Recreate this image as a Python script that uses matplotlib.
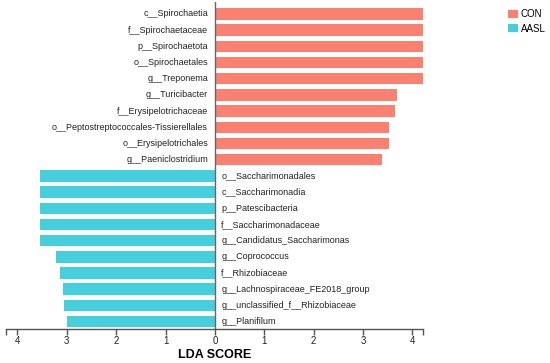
import matplotlib
matplotlib.use("Agg")
import matplotlib.pyplot as plt
from matplotlib.patches import Patch
from matplotlib.ticker import FixedLocator, FuncFormatter

plt.rcParams['font.family'] = ['Liberation Sans', 'DejaVu Sans']

con_labels = ["c__Spirochaetia", "f__Spirochaetaceae", "p__Spirochaetota",
              "o__Spirochaetales", "g__Treponema", "g__Turicibacter",
              "f__Erysipelotrichaceae", "o__Peptostreptococcales-Tissierellales",
              "o__Erysipelotrichales", "g__Paeniclostridium"]
con_values = [4.22, 4.22, 4.22, 4.22, 4.22, 3.68, 3.65, 3.53, 3.52, 3.39]

aasl_labels = ["o__Saccharimonadales", "c__Saccharimonadia", "p__Patescibacteria",
               "f__Saccharimonadaceae", "g__Candidatus_Saccharimonas",
               "g__Coprococcus", "f__Rhizobiaceae", "g__Lachnospiraceae_FE2018_group",
               "g__unclassified_f__Rhizobiaceae", "g__Planifilum"]
aasl_values = [3.54, 3.54, 3.54, 3.54, 3.54, 3.22, 3.14, 3.08, 3.06, 2.99]

groups = ["CON", "AASL"]
colors = ["#FA8072", "#45CEDC"]
xticks = [-4, -3, -2, -1, 0, 1, 2, 3, 4]

fig = plt.figure(figsize=(5.5, 3.63), dpi=100)
ax = fig.add_axes([6/550, 1 - 329.3/363, (423.3 - 6)/550, (329.3 - 2)/363])

n_con = len(con_values)
con_y = list(range(n_con))
aasl_y = list(range(n_con, n_con + len(aasl_values)))

ax.barh(con_y, con_values, height=0.71, color=colors[0], edgecolor='none')
ax.barh(aasl_y, [-v for v in aasl_values], height=0.71, color=colors[1], edgecolor='none')

for y, lab in zip(con_y, con_labels):
    ax.text(-0.14, y, lab, ha='right', va='center', fontsize=6.5, color='#222222')
for y, lab in zip(aasl_y, aasl_labels):
    ax.text(0.13, y, lab, ha='left', va='center', fontsize=6.5, color='#222222')

ax.set_xlim(-4.23, 4.22)
ax.set_ylim(len(con_y) + len(aasl_y) - 1 + 0.476, -0.74)
ax.axvline(0, color='#666666', lw=1)

for s in ['top', 'right', 'left']:
    ax.spines[s].set_visible(False)
ax.spines['bottom'].set_color('#555555')
ax.spines['bottom'].set_linewidth(1)
ax.set_yticks([])
ax.xaxis.set_major_locator(FixedLocator(xticks))
ax.xaxis.set_major_formatter(FuncFormatter(lambda v, p: f"{abs(int(round(v)))}"))
ax.xaxis.set_minor_locator(FixedLocator([-4.23, 4.22]))
ax.tick_params(axis='x', which='both', length=4, width=1, color='#555555',
               labelsize=7, labelcolor='#222222', pad=1)
ax.set_xlabel("LDA SCORE", fontsize=9, fontweight='bold', labelpad=2)

handles = [Patch(facecolor=c, edgecolor='none', label=g) for g, c in zip(groups, colors)]
fig.legend(handles=handles, loc='upper left', bbox_to_anchor=(506/550, 1 - 7/363),
           frameon=False, fontsize=7, handlelength=1.0, handleheight=0.9,
           handletextpad=0.3, labelspacing=0.5, borderaxespad=0, borderpad=0.2)

fig.savefig("out.png", dpi=100)
